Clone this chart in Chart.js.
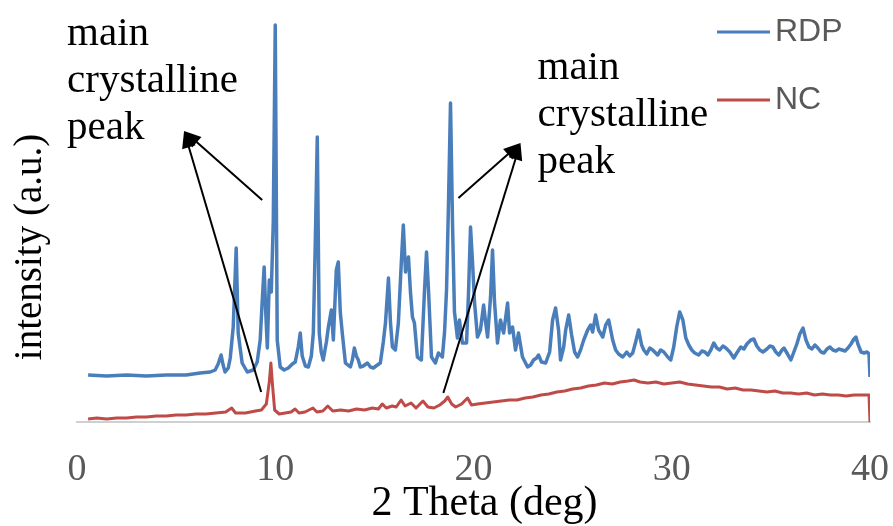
<!DOCTYPE html>
<html>
<head>
<meta charset="utf-8">
<script src="https://cdn.jsdelivr.net/npm/chart.js@4.4.1/dist/chart.umd.min.js"></script>
<style>
  html, body { margin: 0; padding: 0; background: #fff; }
  #wrap { width: 893px; height: 526px; }
</style>
</head>
<body>
<div id="wrap"><canvas id="xrdChart"></canvas></div>
<script>
// 2 theta (deg) and intensity (a.u.)
const rdpX = [
  0.56,1.5,2.5,3.5,4.5,5.5,6.21,6.72,6.97,7.12,7.27,7.37,7.47,7.63,7.73,7.88,8.03,8.13,
  8.33,8.59,8.89,9.09,9.24,9.34,9.44,9.52,9.6,9.7,9.8,9.9,10.0,10.1,10.25,10.45,10.66,10.86,
  11.01,11.16,11.26,11.36,11.52,11.67,11.82,11.92,12.02,12.12,12.22,12.32,12.42,12.58,12.68,12.83,12.93,13.08,13.18,13.28,13.38,
  13.54,13.79,13.89,13.99,14.09,14.19,14.29,14.44,14.65,14.8,14.95,15.15,15.3,15.45,15.56,15.71,15.81,15.91,
  16.06,16.21,16.36,16.46,16.57,16.62,16.72,16.82,16.92,17.02,17.17,17.37,17.53,17.63,17.73,17.88,18.08,18.23,18.43,
  18.54,18.64,18.74,18.84,18.94,19.04,19.19,19.29,19.44,19.65,19.75,19.85,19.95,20.05,20.2,20.35,20.51,20.61,20.71,20.86,20.96,
  21.06,21.21,21.36,21.52,21.72,21.82,21.97,22.12,22.27,22.47,22.73,22.88,23.03,23.18,23.28,23.43,
  23.64,23.84,23.99,24.14,24.29,24.39,24.55,24.65,24.8,24.95,25.1,25.25,25.4,25.56,25.76,25.91,26.01,26.16,26.31,26.52,26.67,26.82,27.02,
  27.17,27.32,27.53,27.73,27.88,28.03,28.18,28.33,28.48,28.59,28.74,28.89,29.04,29.19,29.29,29.44,29.6,29.8,29.95,
  30.1,30.25,30.4,30.56,30.71,30.86,31.01,31.16,31.36,31.52,31.67,31.82,31.97,32.12,32.27,32.42,32.58,32.73,32.93,
  33.13,33.28,33.48,33.64,33.79,33.99,34.14,34.29,34.44,34.6,34.8,34.95,35.1,35.25,35.4,35.56,35.66,35.81,
  36.01,36.16,36.31,36.46,36.62,36.77,36.92,37.07,37.22,37.37,37.53,37.68,37.83,37.98,38.13,38.28,38.43,
  38.59,38.74,38.89,39.04,39.19,39.29,39.39,39.55,39.7,39.85,39.95,40
];
const rdpY = [
  47,46,47,46,47,47,49,50,52,58,67,57,50,54,64,95,174,89,
  59,50,52,60,82,120,155,110,74,142,130,200,397,82,55,52,54,58,
  60,75,89,66,56,55,66,89,180,285,89,70,62,80,95,112,82,152,160,110,89,
  59,55,62,74,66,62,55,56,59,55,54,57,59,80,99,144,100,75,
  72,99,160,197,150,159,165,130,105,99,65,62,132,170,132,65,59,69,65,
  90,132,220,319,200,110,84,102,79,79,130,195,160,120,85,92,117,100,85,125,172,
  120,79,102,89,119,89,95,72,89,65,55,57,62,64,67,60,
  59,70,102,114,92,62,75,92,107,87,70,65,72,82,92,97,90,107,92,85,97,102,82,
  72,68,65,70,66,69,80,92,77,72,68,74,72,69,67,72,70,65,62,
  75,95,110,102,84,77,72,69,67,71,70,67,72,79,74,72,76,74,70,
  64,69,75,73,78,82,83,76,72,70,73,76,75,70,67,72,74,69,
  62,70,78,88,94,82,75,73,77,74,70,69,73,75,72,71,73,
  72,71,74,78,83,85,78,70,69,70,68,45
];
const ncX = [
  0.56,1,1.5,2,2.5,3,3.5,4,4.5,5,5.5,6,6.5,7,7.5,7.8,8,8.5,9,9.3,9.55,9.7,9.78,9.87,9.97,
  10.2,10.5,10.8,11,11.2,11.5,11.9,12.1,12.4,12.65,12.9,13.3,13.7,14.1,14.5,14.9,15.2,15.4,15.6,15.9,
  16.1,16.35,16.55,16.85,17.1,17.45,17.7,18,18.3,18.55,18.7,18.9,19.1,19.4,19.7,19.9,20.2,20.6,21,21.4,
  21.8,22.2,22.6,23,23.4,23.8,24.2,24.6,25,25.4,25.8,26.2,26.6,27,27.4,27.8,28.1,28.4,28.8,29.2,
  29.6,30,30.4,30.8,31.2,31.6,32,32.4,32.8,33.2,33.6,34,34.4,34.8,35.2,35.6,36,36.4,36.8,37.2,
  37.6,38,38.4,38.8,39.2,39.6,39.95,40
];
const ncY = [
  3,4,3,4,4,5,5,6,6,7,7,8,8,9,10,14,9,9,11,12,18,40,59,35,12,
  8,9,10,13,9,10,14,10,11,16,11,12,11,13,12,14,13,18,14,16,
  15,22,16,19,14,21,15,14,17,21,25,18,15,18,24,17,18,19,20,21,
  22,22,24,25,27,28,30,31,33,34,36,37,39,38,40,41,42,40,39,40,
  38,39,40,38,37,36,35,35,33,34,32,32,31,30,31,29,29,28,29,27,
  28,27,27,26,27,27,27,0
];
const seriesNames = ["RDP", "NC"];
const xTicks = [0, 10, 20, 30, 40];
const xTitle = "2 Theta (deg)";
const yTitle = "intensity (a.u.)";

// annotation text and arrows, in data units
const noteWords = ["main", "crystalline", "peak"];
const notes = [
  { x: -0.5, y: 377 },
  { x: 23.23, y: 343 }
];
const arrows = [
  { tip: [5.4, 291], tails: [[9.34, 222], [9.29, 30]] },
  { tip: [22.37, 279], tails: [[19.24, 224], [18.48, 29]] }
];

const toPoints = (xs, ys) => xs.map((x, i) => ({ x: x, y: ys[i] }));

const serif = "'Liberation Serif', 'Times New Roman', serif";

const notesPlugin = {
  id: 'notes',
  afterDraw(chart) {
    const ctx = chart.ctx;
    const sx = chart.scales.x;
    const sy = chart.scales.y;
    const area = chart.chartArea;
    ctx.save();

    // arrows
    ctx.strokeStyle = '#000';
    ctx.fillStyle = '#000';
    ctx.lineWidth = 2;
    arrows.forEach(a => {
      const tx = sx.getPixelForValue(a.tip[0]);
      const ty = sy.getPixelForValue(a.tip[1]);
      a.tails.forEach(t => {
        const fx = sx.getPixelForValue(t[0]);
        const fy = sy.getPixelForValue(t[1]);
        const ang = Math.atan2(ty - fy, tx - fx);
        const c = Math.cos(ang), s = Math.sin(ang);
        ctx.beginPath();
        ctx.moveTo(fx, fy);
        ctx.lineTo(tx - 10 * c, ty - 10 * s);
        ctx.stroke();
        ctx.beginPath();
        ctx.moveTo(tx, ty);
        ctx.lineTo(tx - 17 * c + 7 * s, ty - 17 * s - 7 * c);
        ctx.lineTo(tx - 17 * c - 7 * s, ty - 17 * s + 7 * c);
        ctx.closePath();
        ctx.fill();
      });
    });

    // text notes
    ctx.font = "41px " + serif;
    ctx.textAlign = 'left';
    ctx.textBaseline = 'alphabetic';
    notes.forEach(n => {
      const px = sx.getPixelForValue(n.x);
      const py = sy.getPixelForValue(n.y);
      noteWords.forEach((w, i) => ctx.fillText(w, px, py + i * 47));
    });

    // axis titles, both sit a little off-centre in the original
    ctx.textAlign = 'center';
    ctx.font = "42px " + serif;
    ctx.fillText(xTitle, (area.left + area.right) / 2 + 11, area.bottom + 93);

    ctx.save();
    ctx.translate(area.left - 46, (area.top + area.bottom) / 2 + 25);
    ctx.rotate(-Math.PI / 2);
    ctx.font = "39px " + serif;
    ctx.textBaseline = 'middle';
    ctx.fillText(yTitle, 0, 0);
    ctx.restore();

    // legend, top right inside the plot
    ctx.font = "32px 'Liberation Sans', Arial, sans-serif";
    ctx.textAlign = 'left';
    ctx.textBaseline = 'middle';
    chart.data.datasets.forEach((ds, i) => {
      const y = area.top + 10 + i * 68;
      ctx.strokeStyle = ds.borderColor;
      ctx.lineWidth = 3;
      ctx.beginPath();
      ctx.moveTo(area.right - 153, y);
      ctx.lineTo(area.right - 100, y);
      ctx.stroke();
      ctx.fillStyle = '#595959';
      ctx.fillText(ds.label, area.right - 95, y);
    });
    ctx.restore();
  }
};

new Chart(document.getElementById("xrdChart"), {
  type: 'line',
  data: {
    datasets: [{
      label: seriesNames[0],
      data: toPoints(rdpX, rdpY),
      borderColor: "#4a7ebb",
      borderWidth: 3.5,
      borderJoinStyle: 'round',
      pointRadius: 0,
      tension: 0,
      fill: false
    }, {
      label: seriesNames[1],
      data: toPoints(ncX, ncY),
      borderColor: "#be4b48",
      borderWidth: 3,
      borderJoinStyle: 'round',
      pointRadius: 0,
      tension: 0,
      fill: false
    }]
  },
  options: {
    responsive: true,
    maintainAspectRatio: false,
    animation: false,
    layout: { padding: { top: 22, right: 23, bottom: 0, left: 0 } },
    plugins: {
      legend: { display: false },
      tooltip: { enabled: false }
    },
    scales: {
      x: {
        type: 'linear',
        min: 0,
        max: 40,
        afterBuildTicks: (scale) => { scale.ticks = xTicks.map(v => ({ value: v })); },
        afterFit: (scale) => { scale.height = 104; },
        grid: { display: false, drawTicks: false },
        border: { display: true, color: '#d0d0d0', width: 2 },
        ticks: {
          padding: 2,
          maxRotation: 0,
          autoSkip: false,
          color: '#595959',
          font: { family: serif, size: 38, lineHeight: 2.42 }
        },
        title: { display: false }
      },
      y: {
        min: 0,
        max: 400,
        afterFit: (scale) => { scale.width = 77; },
        grid: { display: false, drawTicks: false },
        border: { display: false },
        ticks: { display: false },
        title: { display: false }
      }
    }
  },
  plugins: [notesPlugin]
});
</script>
</body>
</html>
